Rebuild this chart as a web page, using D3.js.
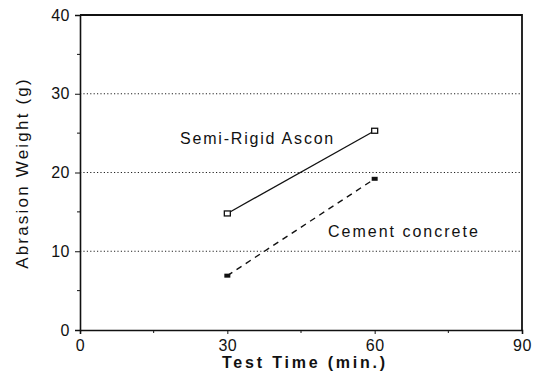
<!DOCTYPE html>
<html>
<head>
<meta charset="utf-8">
<script src="https://cdn.jsdelivr.net/npm/d3@7"></script>
<style>
  body { margin: 0; background: #fff; }
  svg { display: block; font-family: "Liberation Sans", Arial, sans-serif; }
</style>
</head>
<body>
<div id="chart"></div>
<script>
// values
const testTimes = [30, 60];
const semiRigid = [14.8, 25.3];
const cement = [6.9, 19.2];
const xTicks = [0, 30, 60, 90];
const xMinor = [15, 45, 75];
const yTicks = [0, 10, 20, 30, 40];
const yMinor = [5, 15, 25, 35];
const gridValues = [10, 20, 30];

const width = 533, height = 389;
const margin = { top: 15, right: 11, bottom: 59, left: 80 };

const svg = d3.select('#chart').append('svg')
  .attr('width', width)
  .attr('height', height);

const x = d3.scaleLinear().domain([0, 90])
  .range([margin.left, width - margin.right]);
const y = d3.scaleLinear().domain([0, 40])
  .range([height - margin.bottom, margin.top]);

// dotted grid
svg.append('g')
  .selectAll('line')
  .data(gridValues)
  .join('line')
  .attr('x1', x(0)).attr('x2', x(90))
  .attr('y1', d => y(d)).attr('y2', d => y(d))
  .attr('stroke', '#222')
  .attr('stroke-width', 1)
  .attr('stroke-dasharray', '1.2,2.2');

// axes
const gx = svg.append('g')
  .attr('transform', `translate(0,${y(0)})`)
  .call(d3.axisBottom(x).tickValues(xTicks).tickSize(4).tickPadding(3));
gx.append('g').selectAll('line').data(xMinor).join('line')
  .attr('x1', d => x(d)).attr('x2', d => x(d))
  .attr('y1', 0).attr('y2', 3).attr('stroke', '#111');

const gy = svg.append('g')
  .attr('transform', `translate(${x(0)},0)`)
  .call(d3.axisLeft(y).tickValues(yTicks).tickSize(5).tickPadding(5));
gy.append('g').selectAll('line').data(yMinor).join('line')
  .attr('y1', d => y(d)).attr('y2', d => y(d))
  .attr('x1', 0).attr('x2', -3).attr('stroke', '#111');

svg.selectAll('.domain').attr('stroke', '#111').attr('stroke-width', 1.6);
svg.selectAll('.tick line').attr('stroke', '#111');
svg.selectAll('.tick text')
  .attr('fill', '#111')
  .style('font-size', '16px')
  .style('letter-spacing', '0.5px');
gx.selectAll('.tick text').attr('dy', '0.85em');

// frame top and right
svg.append('path')
  .attr('d', `M${x(0)},${y(40)}H${x(90)}V${y(0)}`)
  .attr('fill', 'none')
  .attr('stroke', '#111')
  .attr('stroke-width', 1.8);

// series
const line = d3.line().x((d, i) => x(testTimes[i])).y(d => y(d));

svg.append('path')
  .datum(semiRigid)
  .attr('d', line)
  .attr('fill', 'none')
  .attr('stroke', '#111')
  .attr('stroke-width', 1.3);

svg.append('path')
  .datum(cement)
  .attr('d', line)
  .attr('fill', 'none')
  .attr('stroke', '#111')
  .attr('stroke-width', 1.4)
  .attr('stroke-dasharray', '6,5');

svg.append('g').selectAll('rect')
  .data(semiRigid)
  .join('rect')
  .attr('x', (d, i) => x(testTimes[i]) - 3)
  .attr('y', d => y(d) - 2.5)
  .attr('width', 6).attr('height', 5)
  .attr('fill', '#fff')
  .attr('stroke', '#111')
  .attr('stroke-width', 1.3);

svg.append('g').selectAll('rect')
  .data(cement)
  .join('rect')
  .attr('x', (d, i) => x(testTimes[i]) - 3)
  .attr('y', d => y(d) - 2)
  .attr('width', 6).attr('height', 4)
  .attr('fill', '#111');

// series labels
svg.append('text')
  .attr('x', 180).attr('y', 144)
  .attr('fill', '#111')
  .style('font-size', '16px')
  .style('letter-spacing', '1.8px')
  .text('Semi-Rigid Ascon');

svg.append('text')
  .attr('x', 328).attr('y', 237)
  .attr('fill', '#111')
  .style('font-size', '16px')
  .style('letter-spacing', '2px')
  .text('Cement concrete');

// axis titles
svg.append('text')
  .attr('x', 305).attr('y', 368)
  .attr('text-anchor', 'middle')
  .attr('fill', '#111')
  .style('font-size', '16px')
  .style('font-weight', 'bold')
  .style('letter-spacing', '2.8px')
  .text('Test Time (min.)');

svg.append('text')
  .attr('transform', `translate(28,173) rotate(-90)`)
  .attr('text-anchor', 'middle')
  .attr('fill', '#111')
  .style('font-size', '17px')
  .style('letter-spacing', '2.2px')
  .text('Abrasion Weight (g)');
</script>
</body>
</html>
